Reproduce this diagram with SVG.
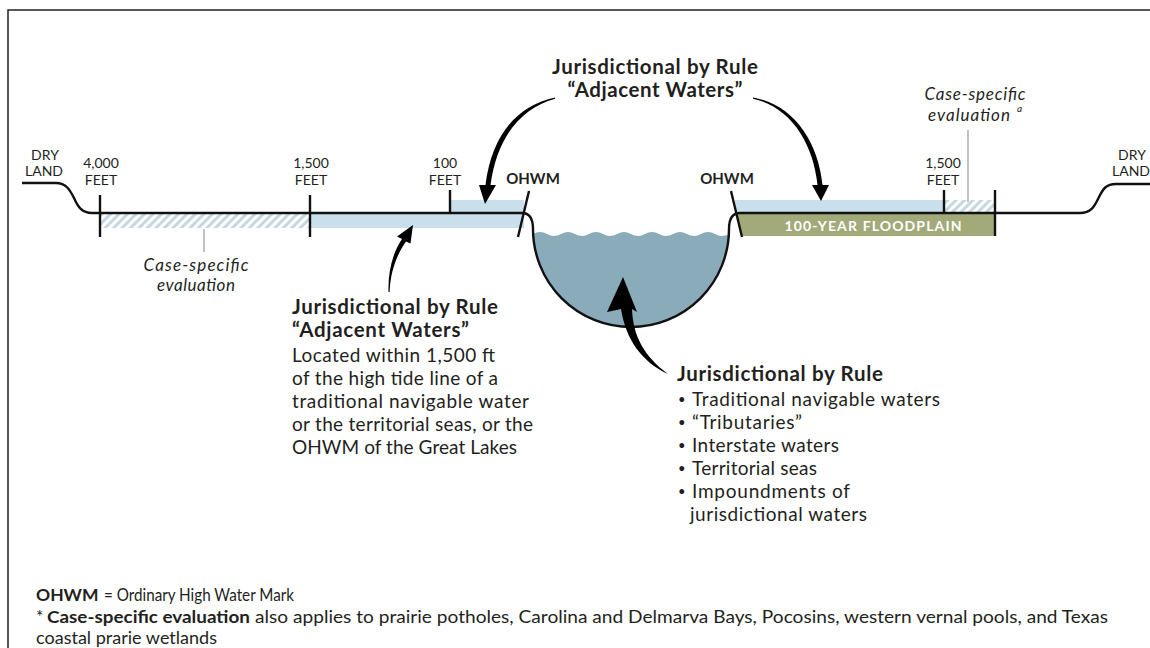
<svg xmlns="http://www.w3.org/2000/svg" width="1150" height="648" viewBox="0 0 1150 648">
<defs>
<pattern id="hatch" width="6" height="6" patternUnits="userSpaceOnUse" patternTransform="rotate(45)">
<rect width="6" height="6" fill="#ffffff"/>
<rect width="3" height="6" fill="#c6d7e2"/>
</pattern>
<style>
text{font-family:Lato,"Liberation Sans",sans-serif;fill:#231f20}
.sm{font-size:14px}
.oh{font-size:15px;font-weight:bold}
.tt{font-size:20.5px;font-weight:bold}
.bd{font-size:19px}
.bu{font-size:13px}
.it{font-size:17px;font-style:italic}
.lg{font-size:17.5px}
.lb{font-size:17.5px;font-weight:bold}
.gl{fill:none;stroke:#111;stroke-width:2.4;stroke-linejoin:round}
.tk{stroke:#111;stroke-width:2.4}
.ld{stroke:#9a9a9a;stroke-width:1.2}
.ar{fill:#000}
.blue{fill:#c9dfeb}
</style>
</defs>
<rect x="8" y="10" width="1200" height="700" fill="#fff" stroke="#222" stroke-width="1.5"/>

<g id="zones">
<rect x="100" y="214" width="210" height="14" fill="url(#hatch)"/>
<rect class="blue" x="310" y="214" width="214" height="14"/>
<rect class="blue" x="450" y="200" width="74" height="13"/>
<rect class="blue" x="735" y="200" width="209" height="13"/>
<rect x="944" y="200" width="51" height="13" fill="url(#hatch)"/>
<polygon points="737,214 995,214 995,236 742,236" fill="#a3aa7a"/>
<text x="873" y="231" text-anchor="middle" style="font-size:14px;font-weight:bold;fill:#ffffff" textLength="177">100-YEAR FLOODPLAIN</text>
</g>

<g id="water">
<path d="M533,234 Q540,230 547,234 T561,234 T575,234 T589,234 T603,234 T617,234 T631,234 T645,234 T659,234 T673,234 T687,234 T701,234 T715,234 T729,234 L729,229 A98,98 0 0 1 533,229 Z" fill="#8aabb9"/>
</g>

<g id="ground">
<path class="gl" d="M22,183 L56,183 C66,183 70,190 74,198 C78,207 82,213 92,213 L522,213 C529,213 533,218 533,229 A98,98 0 0 0 729,229 C729,218 733,213 740,213 L1080,213 C1092,213 1095,205 1099,197 C1103,189 1106,184 1116,184 L1150,184"/>
<line class="tk" x1="100" y1="195" x2="100" y2="237"/>
<line class="tk" x1="310" y1="195" x2="310" y2="237"/>
<line class="tk" x1="450" y1="190" x2="450" y2="213"/>
<line class="tk" x1="529" y1="191" x2="518" y2="237"/>
<line class="tk" x1="731" y1="191" x2="742" y2="237"/>
<line class="tk" x1="944" y1="190" x2="944" y2="213"/>
<line class="tk" x1="995" y1="190" x2="995" y2="236"/>
</g>

<g id="labels">
<text class="sm" x="45" y="160" text-anchor="middle">DRY</text>
<text class="sm" x="44" y="176" text-anchor="middle">LAND</text>
<text class="sm" x="101" y="168" text-anchor="middle">4,000</text>
<text class="sm" x="101" y="185" text-anchor="middle">FEET</text>
<text class="sm" x="311" y="168" text-anchor="middle">1,500</text>
<text class="sm" x="311" y="185" text-anchor="middle">FEET</text>
<text class="sm" x="445" y="168" text-anchor="middle">100</text>
<text class="sm" x="445" y="185" text-anchor="middle">FEET</text>
<text class="oh" x="533" y="184" text-anchor="middle">OHWM</text>
<text class="oh" x="727" y="184" text-anchor="middle">OHWM</text>
<text class="sm" x="943" y="168" text-anchor="middle">1,500</text>
<text class="sm" x="943" y="185" text-anchor="middle">FEET</text>
<text class="sm" x="1132" y="160" text-anchor="middle">DRY</text>
<text class="sm" x="1131" y="176" text-anchor="middle">LAND</text>
</g>

<g id="case-left">
<line class="ld" x1="204" y1="229" x2="204" y2="252"/>
<text class="it" x="196" y="271" text-anchor="middle" textLength="105">Case-specific</text>
<text class="it" x="196" y="291" text-anchor="middle" textLength="78">evaluation</text>
</g>

<g id="case-right">
<line class="ld" x1="968" y1="130" x2="968" y2="202"/>
<text class="it" x="975" y="100" text-anchor="middle" textLength="101">Case-specific</text>
<text class="it" x="969" y="121" text-anchor="middle" textLength="82">evaluation</text>
<text x="1017" y="112" style="font-size:10px;font-style:italic">a</text>
</g>

<g id="title-top">
<text class="tt" x="655" y="74" text-anchor="middle" textLength="206">Jurisdictional by Rule</text>
<text class="tt" x="655" y="97" text-anchor="middle" textLength="175">“Adjacent Waters”</text>
</g>

<g id="text-left">
<text class="tt" x="292" y="314" textLength="206">Jurisdictional by Rule</text>
<text class="tt" x="292" y="337" textLength="177">“Adjacent Waters”</text>
<text class="bd" x="292" y="362" textLength="203">Located within 1,500 ft</text>
<text class="bd" x="292" y="385" textLength="206">of the high tide line of a</text>
<text class="bd" x="292" y="408" textLength="237">traditional navigable water</text>
<text class="bd" x="292" y="431" textLength="241">or the territorial seas, or the</text>
<text class="bd" x="292" y="454" textLength="225">OHWM of the Great Lakes</text>
</g>

<g id="text-right">
<text class="tt" x="677" y="381" textLength="206">Jurisdictional by Rule</text>
<text class="bu" x="678" y="404">•</text>
<text class="bd" x="692" y="406" textLength="248">Traditional navigable waters</text>
<text class="bu" x="678" y="427">•</text>
<text class="bd" x="692" y="429" textLength="110">“Tributaries”</text>
<text class="bu" x="678" y="450">•</text>
<text class="bd" x="692" y="452" textLength="147">Interstate waters</text>
<text class="bu" x="678" y="473">•</text>
<text class="bd" x="692" y="475" textLength="125">Territorial seas</text>
<text class="bu" x="678" y="496">•</text>
<text class="bd" x="692" y="498" textLength="158">Impoundments of</text>
<text class="bd" x="690" y="521" textLength="177">jurisdictional waters</text>
</g>

<g id="connectors">
<path class="ar" d="M555,97.5 C519,105 492,133 485.5,185 L479,185 L485,204 L496,185 L490.5,185 C497,137 521,108 555,98.7 Z"/>
<path class="ar" d="M753,97.5 C792,104 818,140 822.5,185 L829,185 L821,201 L812,185 L817.5,185 C813,142 790,107 753,98.7 Z"/>
<path class="ar" d="M388.5,292 C388,272 392,254 402,239 L397,236.5 L413,225 L410.5,243.5 L406,241.5 C396,256 390.5,272 389.6,292 Z"/>
<path class="ar" d="M668,374 C642,362 626,340 621,309 L607,312 L623,277 L637,312 L632,309 C633,336 644,356 668,374 Z"/>
</g>

<g id="legend">
<text class="lb" x="36" y="601">OHWM</text>
<text class="lg" x="104" y="601" textLength="190" lengthAdjust="spacingAndGlyphs">= Ordinary High Water Mark</text>
<text class="lg" x="36" y="623">*</text>
<text class="lb" x="47" y="623" textLength="203" lengthAdjust="spacingAndGlyphs">Case-specific evaluation</text>
<text class="lg" x="255" y="623" textLength="853" lengthAdjust="spacingAndGlyphs">also applies to prairie potholes, Carolina and Delmarva Bays, Pocosins, western vernal pools, and Texas</text>
<text class="lg" x="36" y="644" textLength="181" lengthAdjust="spacingAndGlyphs">coastal prarie wetlands</text>
</g>
</svg>
